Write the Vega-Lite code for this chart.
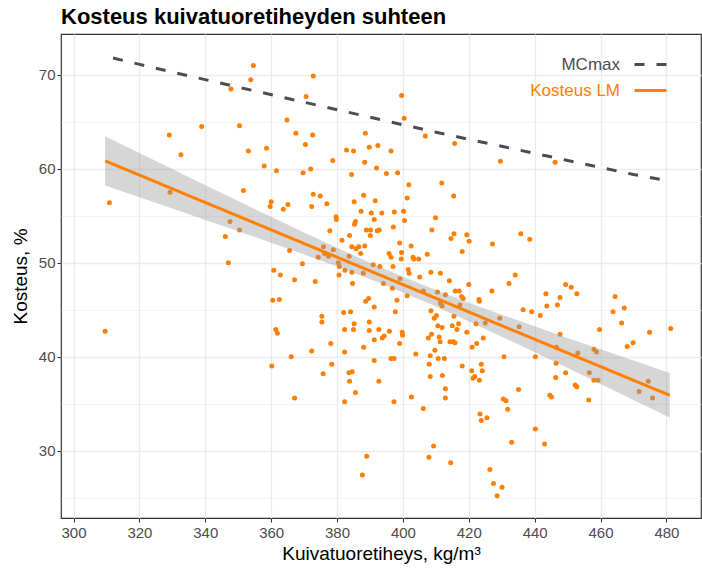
{
  "$schema": "https://vega.github.io/schema/vega-lite/v6.json",
  "width": 640,
  "height": 484,
  "autosize": {"type": "none"},
  "padding": {"left": 61, "top": 34, "right": 1, "bottom": 51},
  "background": "white",
  "title": {"text": "Kosteus kuivatuoretiheyden suhteen", "anchor": "start", "frame": "group", "font": "Liberation Sans", "fontSize": 22, "fontWeight": "bold", "color": "#000000", "offset": 5},
  "config": {
    "font": "Liberation Sans",
    "view": {"stroke": "#333333", "strokeWidth": 1.2, "fill": "white"}
  },
  "datasets": {
    "pts": [
      {"d":310.9,"m":56.4},{"d":329.1,"m":63.6},{"d":332.6,"m":61.5},{"d":329.3,"m":57.5},{"d":354.6,"m":71.0},{"d":353.8,"m":69.5},{"d":347.8,"m":68.5},{"d":372.8,"m":69.9},{"d":370.6,"m":67.7},{"d":364.8,"m":65.2},
      {"d":399.6,"m":67.8},{"d":400.4,"m":65.4},{"d":429.6,"m":60.8},{"d":446.2,"m":60.7},{"d":435.8,"m":53.1},{"d":438.5,"m":52.5},{"d":427.2,"m":52.0},
      {"d":309.6,"m":42.7},{"d":387.7,"m":27.4},
      {"d":434.1,"m":48.7},{"d":432.2,"m":47.8},{"d":427.0,"m":47.0},{"d":436.5,"m":45.0},{"d":439.1,"m":44.8},{"d":441.7,"m":44.4},{"d":443.4,"m":46.7},{"d":443.7,"m":45.4},{"d":449.4,"m":47.7},{"d":451.1,"m":47.4},{"d":452.8,"m":46.7},{"d":447.7,"m":46.3},{"d":446.9,"m":45.5},{"d":429.4,"m":44.1},{"d":435.3,"m":43.2},{"d":447.7,"m":42.4},{"d":446.6,"m":41.0},{"d":440.2,"m":40.0},{"d":430.7,"m":40.0},{"d":453.1,"m":40.4},{"d":446.5,"m":39.3},{"d":446.4,"m":37.8},{"d":449.4,"m":38.3},{"d":452.3,"m":37.0},{"d":452.8,"m":36.8},{"d":456.4,"m":35.4},{"d":444.6,"m":35.9},{"d":445.1,"m":35.7},{"d":435.1,"m":36.5},{"d":430.5,"m":35.5},{"d":431.3,"m":35.3},{"d":431.8,"m":34.4},{"d":440.2,"m":32.3},{"d":443.0,"m":30.7},{"d":433.0,"m":30.9},{"d":458.0,"m":40.8},{"d":458.8,"m":40.5},{"d":456.6,"m":38.3},{"d":458.0,"m":37.5},{"d":459.2,"m":37.5},{"d":459.7,"m":42.9},{"d":463.8,"m":44.8},{"d":464.4,"m":46.4},{"d":467.2,"m":45.2},{"d":466.4,"m":43.6},{"d":468.1,"m":41.1},{"d":469.9,"m":41.5},{"d":474.9,"m":42.6},{"d":481.3,"m":43.0},{"d":471.7,"m":36.3},{"d":474.5,"m":37.4},{"d":475.8,"m":35.6},{"d":426.4,"m":28.0},{"d":427.5,"m":26.5},{"d":428.6,"m":25.2},{"d":430.1,"m":26.1},{"d":414.5,"m":28.7},
      {"d":338.9,"m":64.5},{"d":350.4,"m":64.6},{"d":367.5,"m":63.8},{"d":372.6,"m":63.6},{"d":370.4,"m":62.6},{"d":353.1,"m":61.9},{"d":358.6,"m":62.2},{"d":357.9,"m":60.3},{"d":361.6,"m":59.8},{"d":369.7,"m":59.6},{"d":372.0,"m":60.0},{"d":351.6,"m":57.7},{"d":372.8,"m":57.3},{"d":360.0,"m":56.5},{"d":359.7,"m":56.0},{"d":365.1,"m":56.2},{"d":363.7,"m":55.7},{"d":372.3,"m":56.0},{"d":347.5,"m":54.4},{"d":350.4,"m":53.5},{"d":346.1,"m":52.8},{"d":347.0,"m":50.0},{"d":365.6,"m":51.3},{"d":369.5,"m":49.9},{"d":374.3,"m":50.6},{"d":360.8,"m":49.2},{"d":362.8,"m":48.7},{"d":367.1,"m":48.2},{"d":373.4,"m":48.0},{"d":360.5,"m":46.0},{"d":362.5,"m":46.1},{"d":361.4,"m":42.9},{"d":361.9,"m":42.5},{"d":372.3,"m":40.6},{"d":366.1,"m":40.0},{"d":360.2,"m":39.0},{"d":367.1,"m":35.6},
      {"d":388.6,"m":63.8},{"d":406.8,"m":63.5},{"d":415.7,"m":62.7},{"d":382.9,"m":62.0},{"d":385.0,"m":61.9},{"d":389.8,"m":62.3},{"d":392.4,"m":62.5},{"d":396.4,"m":61.9},{"d":378.7,"m":60.9},{"d":388.4,"m":60.7},{"d":392.0,"m":60.1},{"d":384.4,"m":59.4},{"d":395.0,"m":59.5},{"d":398.4,"m":59.6},{"d":401.8,"m":58.3},{"d":411.8,"m":58.5},{"d":374.9,"m":57.1},{"d":376.9,"m":56.3},{"d":388.1,"m":57.2},{"d":385.2,"m":56.5},{"d":391.6,"m":56.6},{"d":401.3,"m":56.9},{"d":415.4,"m":57.1},{"d":387.3,"m":55.5},{"d":390.4,"m":55.3},{"d":393.6,"m":55.3},{"d":397.4,"m":55.4},{"d":400.2,"m":55.5},{"d":379.7,"m":54.9},{"d":379.8,"m":54.6},{"d":385.6,"m":54.4},{"d":385.3,"m":54.1},{"d":391.3,"m":54.6},{"d":400.5,"m":54.5},{"d":409.9,"m":54.8},{"d":377.8,"m":53.4},{"d":388.9,"m":53.5},{"d":390.2,"m":53.5},{"d":392.2,"m":53.4},{"d":392.8,"m":53.5},{"d":397.1,"m":53.8},{"d":408.8,"m":53.5},{"d":383.8,"m":52.9},{"d":390.1,"m":52.9},{"d":381.5,"m":52.4},{"d":415.5,"m":53.1},{"d":414.6,"m":52.6},{"d":419.4,"m":53.0},{"d":420.1,"m":52.3},{"d":418.0,"m":51.2},{"d":384.5,"m":51.7},{"d":385.8,"m":51.5},{"d":386.6,"m":51.7},{"d":388.4,"m":51.8},{"d":387.2,"m":51.0},{"d":399.0,"m":52.1},{"d":402.5,"m":51.8},{"d":395.8,"m":51.0},{"d":396.4,"m":50.6},{"d":399.6,"m":51.1},{"d":399.5,"m":50.4},{"d":403.1,"m":50.6},{"d":403.3,"m":50.4},{"d":404.8,"m":50.4},{"d":407.4,"m":50.9},{"d":397.0,"m":49.6},{"d":401.6,"m":49.3},{"d":401.9,"m":48.9},{"d":405.1,"m":48.5},{"d":408.5,"m":49.0},{"d":411.4,"m":48.9},{"d":414.1,"m":48.1},{"d":420.0,"m":47.7},{"d":375.9,"m":51.7},{"d":378.9,"m":51.4},{"d":376.2,"m":51.0},{"d":377.4,"m":50.7},{"d":380.4,"m":50.0},{"d":383.7,"m":50.7},{"d":380.7,"m":49.6},{"d":382.4,"m":49.2},{"d":384.5,"m":49.0},{"d":380.6,"m":48.7},{"d":384.7,"m":47.8},{"d":391.0,"m":49.8},{"d":393.0,"m":49.6},{"d":394.1,"m":47.8},{"d":388.0,"m":48.9},{"d":399.1,"m":48.3},
      {"d":396.8,"m":47.3},{"d":401.3,"m":46.5},{"d":415.9,"m":47.0},{"d":417.1,"m":47.0},{"d":417.8,"m":46.4},{"d":418.3,"m":46.2},{"d":423.1,"m":46.1},{"d":423.2,"m":45.9},{"d":406.2,"m":47.0},{"d":410.5,"m":46.9},{"d":412.9,"m":46.6},{"d":411.4,"m":45.7},{"d":411.9,"m":45.4},{"d":417.3,"m":45.5},{"d":388.7,"m":45.9},{"d":389.6,"m":46.2},{"d":391.3,"m":45.3},{"d":398.2,"m":46.0},{"d":397.7,"m":44.8},{"d":408.5,"m":44.9},{"d":382.0,"m":44.7},{"d":384.1,"m":44.8},{"d":375.4,"m":44.3},{"d":375.4,"m":43.7},{"d":385.2,"m":43.5},{"d":389.8,"m":43.7},{"d":410.2,"m":44.4},{"d":409.5,"m":44.1},{"d":410.6,"m":43.3},{"d":415.5,"m":44.3},{"d":416.9,"m":43.5},{"d":415.0,"m":43.3},{"d":416.4,"m":42.9},{"d":422.2,"m":43.5},{"d":425.0,"m":43.6},{"d":382.3,"m":42.9},{"d":385.0,"m":42.9},{"d":389.8,"m":42.8},{"d":392.7,"m":42.9},{"d":395.9,"m":42.7},{"d":399.8,"m":42.6},{"d":399.9,"m":42.3},{"d":411.9,"m":43.1},{"d":408.7,"m":42.4},{"d":419.4,"m":42.6},{"d":391.3,"m":41.8},{"d":393.7,"m":42.0},{"d":394.3,"m":42.2},{"d":407.7,"m":42.0},{"d":411.0,"m":42.1},{"d":411.3,"m":41.6},{"d":414.3,"m":41.6},{"d":415.3,"m":41.6},{"d":415.8,"m":41.5},{"d":424.4,"m":42.0},{"d":422.4,"m":41.4},{"d":421.0,"m":41.0},{"d":378.1,"m":41.4},{"d":399.0,"m":41.4},{"d":388.1,"m":41.0},{"d":382.3,"m":40.5},{"d":409.7,"m":40.7},{"d":403.9,"m":40.3},{"d":408.3,"m":40.1},{"d":378.4,"m":39.2},{"d":375.8,"m":38.2},{"d":391.3,"m":39.6},{"d":396.4,"m":39.8},{"d":397.3,"m":39.8},{"d":410.7,"m":39.8},{"d":412.6,"m":39.8},{"d":408.0,"m":39.2},{"d":418.0,"m":39.0},{"d":423.8,"m":39.2},{"d":420.9,"m":38.5},{"d":424.1,"m":38.5},{"d":384.6,"m":38.4},{"d":383.6,"m":38.3},{"d":383.8,"m":37.4},{"d":392.7,"m":37.4},{"d":408.3,"m":37.9},{"d":412.0,"m":38.0},{"d":421.8,"m":37.9},{"d":421.3,"m":37.7},{"d":423.2,"m":37.5},{"d":412.9,"m":36.6},{"d":385.6,"m":36.2},{"d":412.9,"m":35.6},{"d":402.6,"m":35.7},{"d":382.3,"m":35.2},{"d":397.3,"m":35.2},{"d":406.2,"m":34.5},{"d":423.4,"m":33.9},{"d":425.5,"m":33.5},{"d":423.8,"m":33.2},{"d":409.3,"m":30.5},{"d":407.9,"m":29.3},{"d":389.0,"m":29.4}
    ],
    "lm": [
      {"d":309.6,"lo":58.23,"hi":63.47,"fit":60.85},
      {"d":320,"lo":56.99,"hi":61.69,"fit":59.34},
      {"d":330,"lo":55.78,"hi":59.98,"fit":57.88},
      {"d":340,"lo":54.57,"hi":58.27,"fit":56.42},
      {"d":350,"lo":53.37,"hi":56.57,"fit":54.97},
      {"d":360,"lo":52.13,"hi":54.89,"fit":53.51},
      {"d":370,"lo":50.88,"hi":53.22,"fit":52.05},
      {"d":380,"lo":49.61,"hi":51.59,"fit":50.60},
      {"d":390,"lo":48.27,"hi":50.01,"fit":49.14},
      {"d":400,"lo":46.85,"hi":48.51,"fit":47.68},
      {"d":410,"lo":45.36,"hi":47.10,"fit":46.23},
      {"d":420,"lo":43.78,"hi":45.76,"fit":44.77},
      {"d":430,"lo":42.14,"hi":44.48,"fit":43.31},
      {"d":440,"lo":40.48,"hi":43.24,"fit":41.86},
      {"d":450,"lo":38.80,"hi":42.00,"fit":40.40},
      {"d":460,"lo":37.10,"hi":40.80,"fit":38.95},
      {"d":470,"lo":35.39,"hi":39.59,"fit":37.49},
      {"d":481,"lo":33.52,"hi":38.28,"fit":35.90}
    ],
    "mc": [
      {"d":312,"m":71.8},{"d":330,"m":70.3},{"d":350,"m":68.7},{"d":370,"m":67.1},{"d":390,"m":65.5},{"d":410,"m":63.9},{"d":430,"m":62.4},{"d":450,"m":60.9},{"d":470,"m":59.4},{"d":478,"m":58.9}
    ]
  },
  "layer": [
    {
      "data": {"name": "pts"},
      "mark": {"type": "circle", "size": 25, "color": "#ff7f00", "opacity": 1},
      "encoding": {
        "x": {
          "field": "d", "type": "quantitative", "title": "Kuivatuoretiheys, kg/m³",
          "scale": {"domain": [296.2, 490.5], "nice": false, "zero": false},
          "axis": {
            "values": [300,310,320,330,340,350,360,370,380,390,400,410,420,430,440,450,460,470,480,490],
            "labelExpr": "datum.value % 20 === 0 ? datum.label : ''",
            "labelOverlap": false, "labelFlush": false,
            "tickOpacity": {"condition": {"test": "datum.value % 20 !== 0", "value": 0}, "value": 1},
            "gridWidth": {"condition": {"test": "datum.value % 20 === 0", "value": 1.3}, "value": 0.65},
            "gridColor": "#ebebeb", "domain": false,
            "tickColor": "#333333", "tickSize": 4, "tickWidth": 1.1,
            "labelColor": "#4d4d4d", "labelFontSize": 15, "labelFont": "Liberation Sans", "labelPadding": 3,
            "titleFontSize": 19, "titleFontWeight": "normal", "titleColor": "#000000", "titleFont": "Liberation Sans", "titlePadding": 4
          }
        },
        "y": {
          "field": "m", "type": "quantitative", "title": "Kosteus, %",
          "scale": {"domain": [22.83, 74.36], "nice": false, "zero": false},
          "axis": {
            "values": [25,30,35,40,45,50,55,60,65,70],
            "labelExpr": "datum.value % 10 === 0 ? datum.label : ''",
            "labelOverlap": false, "labelFlush": false,
            "tickOpacity": {"condition": {"test": "datum.value % 10 !== 0", "value": 0}, "value": 1},
            "gridWidth": {"condition": {"test": "datum.value % 10 === 0", "value": 1.3}, "value": 0.65},
            "gridColor": "#ebebeb", "domain": false,
            "tickColor": "#333333", "tickSize": 4, "tickWidth": 1.1,
            "labelColor": "#4d4d4d", "labelFontSize": 15, "labelFont": "Liberation Sans", "labelPadding": 2,
            "titleFontSize": 19, "titleFontWeight": "normal", "titleColor": "#000000", "titleFont": "Liberation Sans", "titlePadding": 8
          }
        }
      }
    },
    {
      "data": {"name": "lm"},
      "mark": {"type": "area", "color": "#999999", "opacity": 0.4},
      "encoding": {
        "x": {"field": "d", "type": "quantitative"},
        "y": {"field": "lo", "type": "quantitative"},
        "y2": {"field": "hi"}
      }
    },
    {
      "data": {"name": "mc"},
      "mark": {"type": "line", "strokeWidth": 3, "strokeCap": "butt"},
      "encoding": {
        "x": {"field": "d", "type": "quantitative"},
        "y": {"field": "m", "type": "quantitative"},
        "color": {
          "datum": "MCmax", "type": "nominal",
          "scale": {"domain": ["MCmax", "Kosteus LM"], "range": ["#4d4d4d", "#ff7f00"]},
          "legend": {
            "title": null, "orient": "none", "legendX": 572, "legendY": 13, "padding": 0,
            "symbolType": "stroke", "symbolSize": 1024, "symbolStrokeWidth": 3,
            "labelFontSize": 17, "labelFont": "Liberation Sans", "labelAlign": "right", "labelOffset": -48, "labelLimit": 300,
            "rowPadding": 0,
            "labelColor": {"expr": "datum.label === 'MCmax' ? '#4d4d4d' : '#ff7f00'"}
          }
        },
        "strokeDash": {
          "datum": "MCmax", "type": "nominal",
          "scale": {"domain": ["MCmax", "Kosteus LM"], "range": [[10, 12], [1, 0]]},
          "legend": {
            "title": null, "orient": "none", "legendX": 572, "legendY": 13, "padding": 0,
            "symbolType": "stroke", "symbolSize": 1024, "symbolStrokeWidth": 3,
            "labelFontSize": 17, "labelFont": "Liberation Sans", "labelAlign": "right", "labelOffset": -48, "labelLimit": 300,
            "rowPadding": 0,
            "labelColor": {"expr": "datum.label === 'MCmax' ? '#4d4d4d' : '#ff7f00'"}
          }
        }
      }
    },
    {
      "data": {"name": "lm"},
      "mark": {"type": "line", "strokeWidth": 3},
      "encoding": {
        "x": {"field": "d", "type": "quantitative"},
        "y": {"field": "fit", "type": "quantitative"},
        "color": {"datum": "Kosteus LM", "type": "nominal"},
        "strokeDash": {"datum": "Kosteus LM", "type": "nominal"}
      }
    }
  ]
}
